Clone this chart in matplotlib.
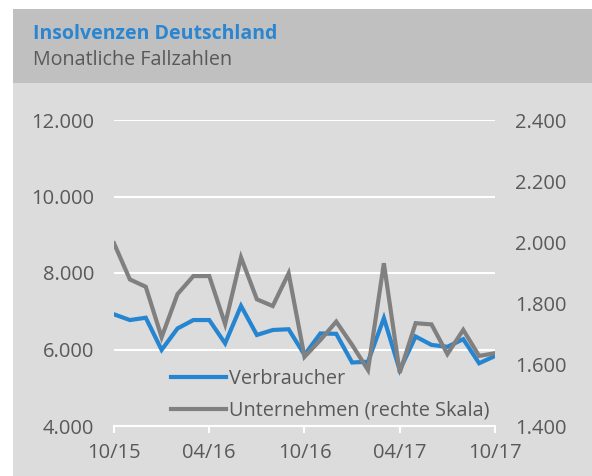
import matplotlib
matplotlib.use("Agg")
import matplotlib.pyplot as plt
from matplotlib.patches import Rectangle
from matplotlib.ticker import FuncFormatter
import numpy as np

plt.rcParams['font.family'] = ['Open Sans', 'DejaVu Sans']

months = ["10/15", "11/15", "12/15", "01/16", "02/16", "03/16", "04/16", "05/16", "06/16",
          "07/16", "08/16", "09/16", "10/16", "11/16", "12/16", "01/17", "02/17", "03/17",
          "04/17", "05/17", "06/17", "07/17", "08/17", "09/17", "10/17"]
verbraucher = [6920, 6770, 6830, 5990, 6550, 6770, 6770, 6160, 7140, 6380, 6510, 6530,
               5860, 6420, 6410, 5660, 5680, 6820, 5460, 6340, 6120, 6070, 6270, 5640, 5830]
unternehmen = [1997, 1879, 1855, 1690, 1831, 1890, 1890, 1733, 1951, 1814, 1792, 1899,
               1626, 1681, 1741, 1665, 1583, 1932, 1574, 1736, 1732, 1635, 1714, 1629, 1638]
xtick_labels = ["10/15", "04/16", "10/16", "04/17", "10/17"]
left_ticks = [4000, 6000, 8000, 10000, 12000]
right_ticks = [1400, 1600, 1800, 2000, 2200, 2400]

W, H = 592, 476
fig = plt.figure(figsize=(W / 100, H / 100), dpi=100)
fig.patch.set_facecolor("white")

def px(x0, y0, x1, y1):
    return [x0 / W, 1 - y1 / H, (x1 - x0) / W, (y1 - y0) / H]

# backgrounds
fig.patches.append(Rectangle((13 / W, 0), 1 - 13 / W, 1 - 83 / H, transform=fig.transFigure,
                             facecolor="#dcdcdc", edgecolor="none", zorder=-2))
fig.patches.append(Rectangle((13 / W, 1 - 83 / H), 1 - 13 / W, (83 - 9) / H, transform=fig.transFigure,
                             facecolor="#c0c0c0", edgecolor="none", zorder=-2))

fig.text(33 / W, 1 - 39 / H, "Insolvenzen Deutschland", color="#2a86d1", fontsize=14,
         fontweight="bold", va="baseline", ha="left")
fig.text(33 / W, 1 - 65 / H, "Monatliche Fallzahlen", color="#595959", fontsize=14.2,
         va="baseline", ha="left")

BLUE = "#2585d0"
GRAY = "#808080"
TXT = "#595959"

ax = fig.add_axes(px(114, 120, 495, 426))
ax.set_facecolor("none")
x = np.arange(len(months))
l1, = ax.plot(x, verbraucher, color=BLUE, lw=3.0, label="Verbraucher", zorder=3,
              solid_joinstyle="miter")
ax.set_ylim(4000, 12000)
ax.set_xlim(0, len(months) - 1)
ax.set_yticks(left_ticks)
ax.yaxis.set_major_formatter(FuncFormatter(lambda v, p: f"{int(v):,}".replace(",", ".")))
ax.set_xticks([months.index(m) for m in xtick_labels])
ax.set_xticklabels(xtick_labels)
for s in ["top", "right", "left"]:
    ax.spines[s].set_visible(False)
ax.spines["bottom"].set_color("white")
ax.spines["bottom"].set_linewidth(1.5)
ax.tick_params(axis="x", colors="white", length=5, width=1.5, labelcolor=TXT, labelsize=14.5, pad=7)
ax.tick_params(axis="y", length=0, labelcolor=TXT, labelsize=14.5, pad=14.4)
ax.grid(axis="y", color="white", lw=1.5)
ax.set_axisbelow(True)

ax2 = ax.twinx()
l2, = ax2.plot(x, unternehmen, color=GRAY, lw=3.0, label="Unternehmen (rechte Skala)",
               solid_joinstyle="miter")
ax2.set_ylim(1400, 2400)
ax2.set_yticks(right_ticks)
ax2.yaxis.set_major_formatter(FuncFormatter(lambda v, p: f"{int(v):,}".replace(",", ".")))
for s in ["top", "right", "left", "bottom"]:
    ax2.spines[s].set_visible(False)
ax2.tick_params(axis="y", length=0, labelcolor=TXT, labelsize=14.5, pad=14.4)

leg = ax2.legend([l1, l2], ["Verbraucher", "Unternehmen (rechte Skala)"],
                 loc="upper left", bbox_to_anchor=(171 / W, 1 - 369 / H),
                 bbox_transform=fig.transFigure, frameon=False, fontsize=14.3,
                 handlelength=2.75, handletextpad=0.15, labelspacing=0.58,
                 borderpad=0, borderaxespad=0)
for t in leg.get_texts():
    t.set_color(TXT)

fig.savefig("out.png", dpi=100, facecolor=fig.get_facecolor())
